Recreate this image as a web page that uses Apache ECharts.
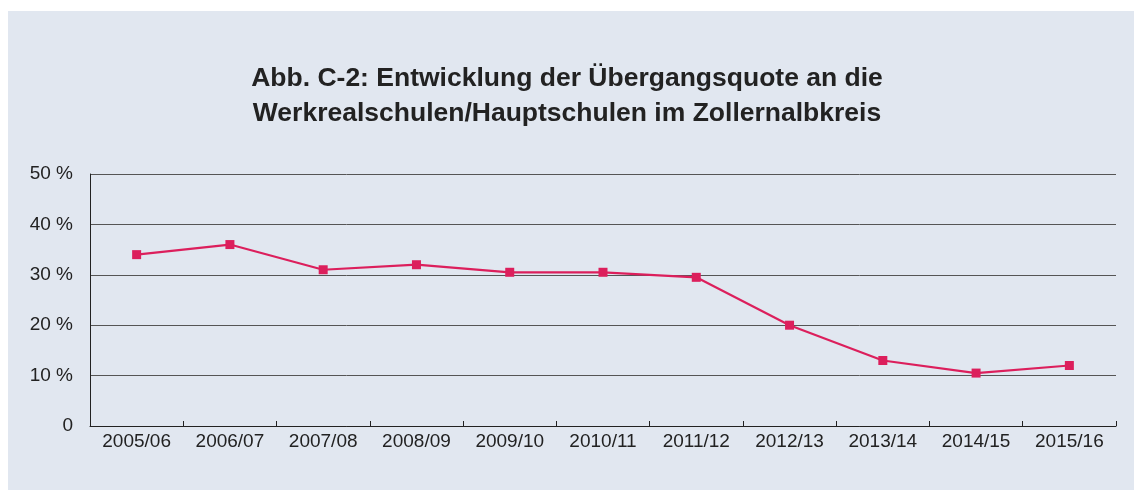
<!DOCTYPE html>
<html><head><meta charset="utf-8">
<script src="https://cdn.jsdelivr.net/npm/echarts@6/dist/echarts.min.js"></script>
<style>
html,body{margin:0;padding:0;background:#fff;}
#panel{position:absolute;left:8px;top:11px;width:1126px;height:479px;background:#e1e7f0;}
#chart{position:absolute;left:0;top:0;width:1134px;height:490px;}
</style></head>
<body>
<div id="panel"></div>
<div id="chart"></div>
<script>
const categories = ['2005/06','2006/07','2007/08','2008/09','2009/10','2010/11','2011/12','2012/13','2013/14','2014/15','2015/16'];
const quote = [34, 36, 31, 32, 30.5, 30.5, 29.5, 20, 13, 10.5, 12];
const titleText = 'Abb. C-2: Entwicklung der Übergangsquote an die\nWerkrealschulen/Hauptschulen im Zollernalbkreis';

const chart = echarts.init(document.getElementById('chart'), null, {renderer:'canvas'});
chart.setOption({
  backgroundColor: 'transparent',
  animation: false,
  title: {
    text: titleText,
    left: 'center',
    top: 56,
    textStyle: {fontFamily:'Liberation Sans, Arial, sans-serif', fontWeight:'bold', fontSize:26.5, lineHeight:35, color:'#222'}
  },
  grid: {left: 90, right: 18, top: 174, bottom: 64, containLabel: false},
  xAxis: {
    type: 'category',
    data: categories,
    boundaryGap: true,
    axisLine: {show:true, lineStyle:{color:'#222', width:1}},
    axisTick: {show:true, inside:true, length:5, lineStyle:{color:'#222'}},
    axisLabel: {fontFamily:'Liberation Sans, Arial, sans-serif', fontSize:19, color:'#222', margin:6}
  },
  yAxis: {
    type: 'value',
    min: 0, max: 50, interval: 10,
    axisLine: {show:true, lineStyle:{color:'#222', width:1}},
    axisTick: {show:false},
    splitLine: {show:true, lineStyle:{color:'#555', width:1}},
    axisLabel: {
      fontFamily:'Liberation Sans, Arial, sans-serif', fontSize:19, color:'#222', margin:17,
      formatter: v => v === 0 ? '0' : v + ' %'
    }
  },
  series: [{
    type: 'line',
    data: quote,
    symbol: 'rect',
    symbolSize: 9,
    lineStyle: {color:'#dc1f5c', width:2.2},
    itemStyle: {color:'#dc1f5c'}
  }]
});
</script>
</body></html>
